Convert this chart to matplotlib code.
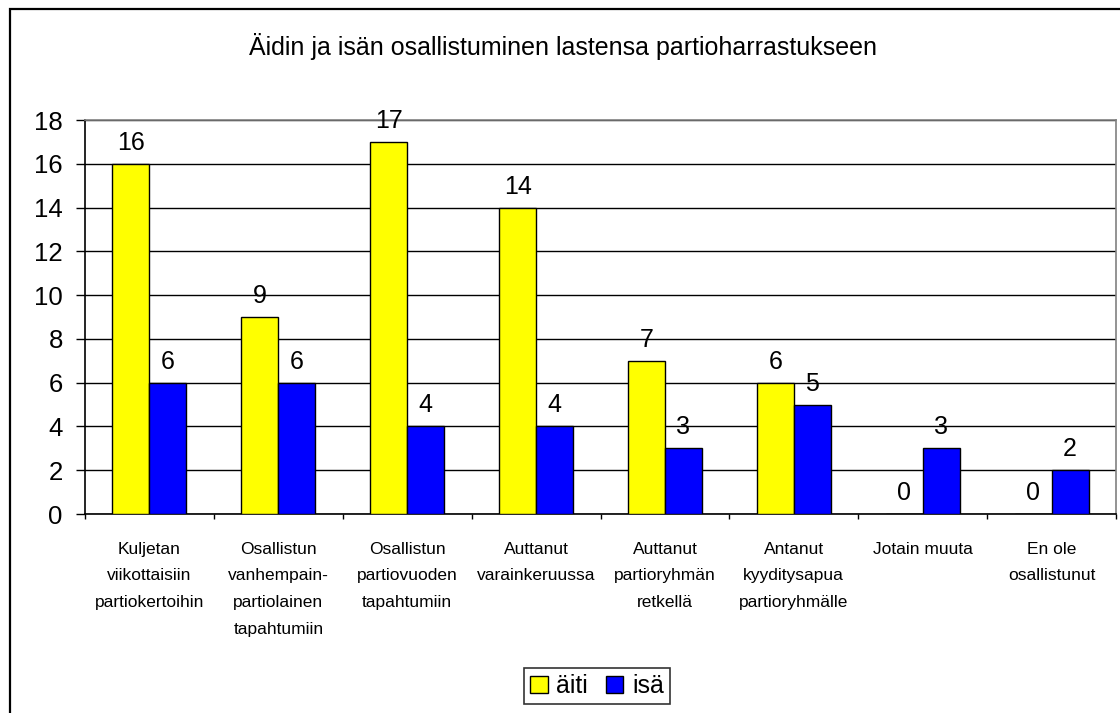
import matplotlib
matplotlib.use("Agg")
import matplotlib.pyplot as plt
from matplotlib.patches import Rectangle
import numpy as np

title = "Äidin ja isän osallistuminen lastensa partioharrastukseen"
categories = [
    "Kuljetan\nviikottaisiin\npartiokertoihin",
    "Osallistun\nvanhempain-\npartiolainen\ntapahtumiin",
    "Osallistun\npartiovuoden\ntapahtumiin",
    "Auttanut\nvarainkeruussa",
    "Auttanut\npartioryhmän\nretkellä",
    "Antanut\nkyyditysapua\npartioryhmälle",
    "Jotain muuta",
    "En ole\nosallistunut",
]
aiti = [16, 9, 17, 14, 7, 6, 0, 0]
isa = [6, 6, 4, 4, 3, 5, 3, 2]
series_names = ["äiti", "isä"]
yticks = [0, 2, 4, 6, 8, 10, 12, 14, 16, 18]

plt.rcParams['font.family'] = ['Liberation Sans', 'DejaVu Sans']

W, H = 1120, 713
fig = plt.figure(figsize=(W / 100, H / 100), dpi=100)

# outer chart frame
fig.patches.append(Rectangle((10 / W, -0.1), 1.2, (H - 9) / H + 0.1, transform=fig.transFigure,
                             fill=False, edgecolor='black', linewidth=1.6, zorder=0))

ax = fig.add_axes([85 / W, (H - 514) / H, (1116 - 85) / W, (514 - 120) / H])

x = np.arange(len(categories))
bw = 37 / 128.9
b1 = ax.bar(x - bw / 2, aiti, bw, color='#FFFF00', edgecolor='black', linewidth=1.0, label=series_names[0], zorder=3)
b2 = ax.bar(x + bw / 2, isa, bw, color='#0000FF', edgecolor='black', linewidth=1.0, label=series_names[1], zorder=3)

for bars, vals in ((b1, aiti), (b2, isa)):
    for r, v in zip(bars, vals):
        ax.annotate(str(v), (r.get_x() + r.get_width() / 2, v), xytext=(0, 6.5), textcoords='offset points',
                    ha='center', va='bottom', fontsize=18, color='black', zorder=4)

ax.set_xlim(-0.5, len(categories) - 0.5)
ax.set_ylim(0, 18)
ax.set_yticks(yticks)
ax.set_yticklabels([str(t) for t in yticks], fontsize=18.5)
ax.yaxis.grid(True, color='black', linewidth=1.0, zorder=0)
ax.set_axisbelow(True)
ax.tick_params(axis='y', direction='out', length=6.5, width=1.0, pad=9.5)

ax.set_xticks(np.arange(-0.5, len(categories), 1.0), minor=True)
ax.set_xticks(x)
ax.set_xticklabels(categories, fontsize=12.5, linespacing=1.97)
ax.tick_params(axis='x', which='major', length=0, pad=20)
ax.tick_params(axis='x', which='minor', direction='out', length=3.8, width=1.0)

for s in ('top', 'right'):
    ax.spines[s].set_color('#808080')
    ax.spines[s].set_linewidth(1.2)
for s in ('left', 'bottom'):
    ax.spines[s].set_color('black')
    ax.spines[s].set_linewidth(1.2)

fig.text(563 / W, 1 - 47 / H, title, ha='center', va='center', fontsize=18)

leg = fig.legend(handles=[b1, b2], labels=series_names, loc='center', bbox_to_anchor=(597 / W, 1 - 686 / H),
                 ncol=2, fontsize=18, frameon=True, fancybox=False, edgecolor='black',
                 handlelength=0.7, handleheight=0.7, handletextpad=0.35, columnspacing=0.7,
                 borderpad=0.25, borderaxespad=0)
leg.get_frame().set_linewidth(1.2)

fig.savefig("out.png", dpi=100)
